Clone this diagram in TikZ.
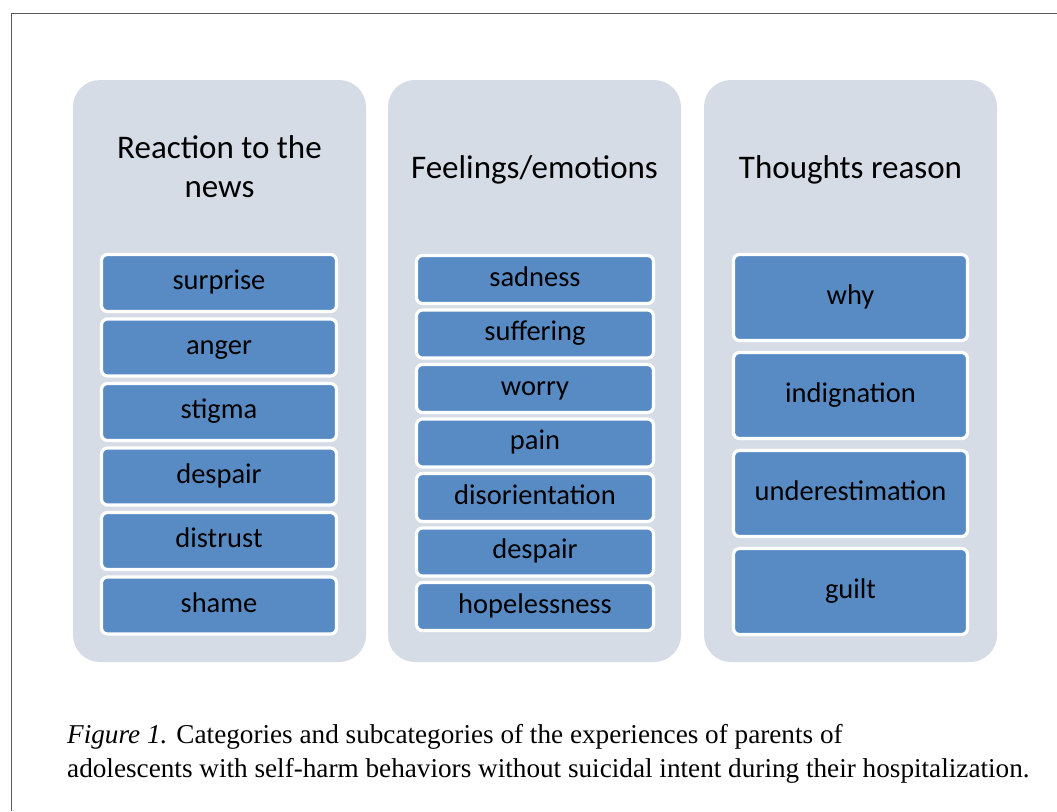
\documentclass[tikz,border=0pt]{standalone}
\usepackage{fontspec}
\setmainfont{Liberation Serif}
\newfontfamily\calib{Carlito}
\definecolor{panelfill}{RGB}{214,220,230}
\definecolor{boxfill}{RGB}{88,139,196}
\definecolor{framecol}{RGB}{90,90,90}
\tikzset{
  panel/.style={fill=panelfill, draw=none, rounded corners=27pt, minimum width=293pt, minimum height=582pt, inner sep=0pt},
  heading/.style={font=\calib\fontsize{33}{39}\selectfont, align=center, text=black},
  subbox/.style={fill=boxfill, draw=white, line width=3.2pt, rounded corners=6pt, inner sep=0pt,
     font=\calib\fontsize{28.5}{34}\selectfont, text=black, text height=1.4em, text depth=0.1em},
  boxA/.style={subbox, minimum width=235pt, minimum height=57pt},
  boxB/.style={subbox, minimum width=237pt, minimum height=48pt},
  boxC/.style={subbox, minimum width=234pt, minimum height=86pt},
  caption/.style={font=\fontsize{27.2}{34}\selectfont, align=left, anchor=base west, inner sep=0pt}
}
\begin{document}
\begin{tikzpicture}[x=1pt,y=-1pt]
\useasboundingbox (0,0) rectangle (1057,811);
\fill[white] (0,0) rectangle (1057,811);
% frame
\coordinate (fa) at (1057,13.5);
\coordinate (fb) at (11.5,13.5);
\coordinate (fc) at (11.5,811);
\draw[framecol, line width=1.8pt] (fa) -- (fb) -- (fc);
% panels
\node[panel] (p1) at (219.5,371) {};
\node[panel] (p2) at (534.5,371) {};
\node[panel] (p3) at (850.5,371) {};
% headings
\node[heading] (h1) at (219.5,167) {Reaction to the\\news};
\node[heading] (h2) at (534.5,170) {Feelings/emotions};
\node[heading] (h3) at (850.5,170) {Thoughts reason};
% panel 1 boxes
\node[boxA] (a1) at (219,283) {surprise};
\node[boxA] (a2) at (219,347.5) {anger};
\node[boxA] (a3) at (219,412) {stigma};
\node[boxA] (a4) at (219,476.5) {despair};
\node[boxA] (a5) at (219,541) {distrust};
\node[boxA] (a6) at (219,605.5) {shame};
% panel 2 boxes
\node[boxB] (b1) at (535,279.5) {sadness};
\node[boxB] (b2) at (535,334) {suffering};
\node[boxB] (b3) at (535,388.5) {worry};
\node[boxB] (b4) at (535,443) {pain};
\node[boxB] (b5) at (535,497.5) {disorientation};
\node[boxB] (b6) at (535,552) {despair};
\node[boxB] (b7) at (535,606.5) {hopelessness};
% panel 3 boxes
\node[boxC] (c1) at (850.5,297.5) {why};
\node[boxC] (c2) at (850.5,395.5) {indignation};
\node[boxC] (c3) at (850.5,493.5) {underestimation};
\node[boxC] (c4) at (850.5,591.5) {guilt};
% caption
\node[caption] (cap1) at (67,743) {\textit{Figure 1.} Categories and subcategories of the experiences of parents of};
\node[caption] (cap2) at (67,777) {adolescents with self-harm behaviors without suicidal intent during their hospitalization.};
\end{tikzpicture}
\end{document}
